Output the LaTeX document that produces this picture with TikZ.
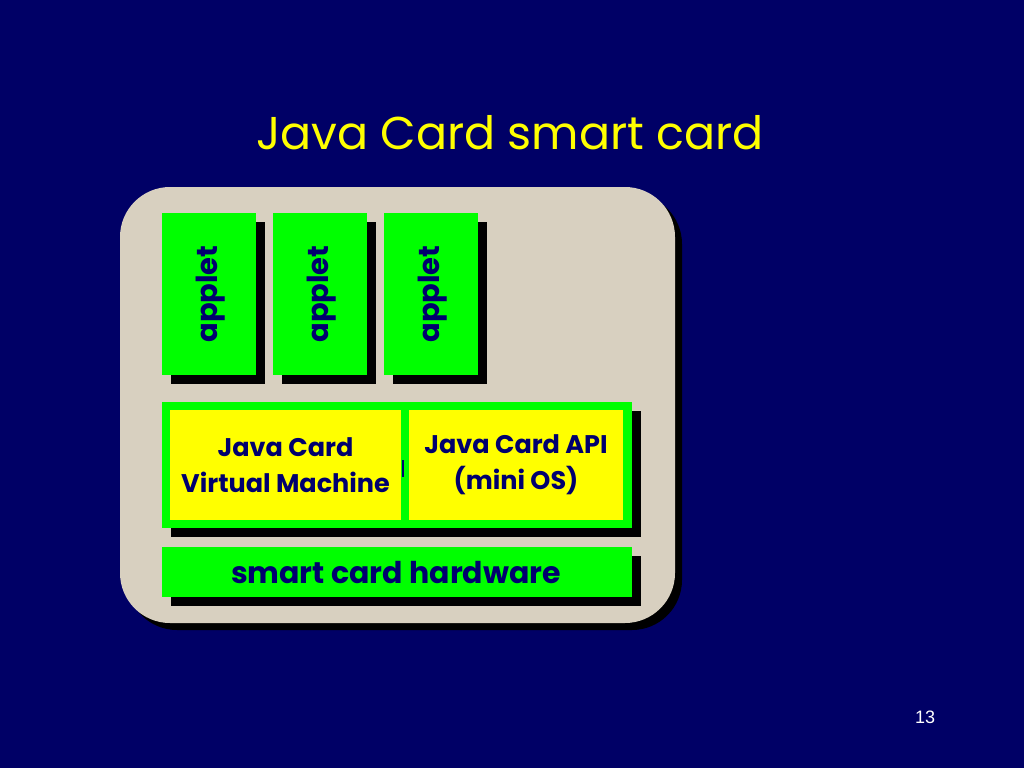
\documentclass[tikz,border=0pt]{standalone}
\usepackage{fontspec}
\setmainfont{Poppins}
\setsansfont{Liberation Sans}
\usetikzlibrary{shadows}
\definecolor{bg}{RGB}{0,0,102}
\definecolor{beige}{RGB}{216,208,192}
\definecolor{gr}{RGB}{0,255,0}
\definecolor{yl}{RGB}{255,255,0}
\definecolor{ink}{RGB}{0,0,110}
\tikzset{
  box/.style={draw=none, fill=gr, inner sep=0pt, outer sep=0pt,
    drop shadow={shadow xshift=9pt, shadow yshift=-9pt, fill=black, opacity=1}},
  ybox/.style={draw=none, fill=yl, inner sep=0pt, outer sep=0pt},
  lbl/.style={text=ink, font=\bfseries, align=center, inner sep=0pt},
}
\begin{document}
\begin{tikzpicture}[x=1pt,y=-1pt]
\fill[bg] (0,0) rectangle (1024,768);
\useasboundingbox (0,0) rectangle (1024,768);
\node[text=yl, font=\fontsize{46}{50}\selectfont, inner sep=0pt] (title) at (510,133) {Java Card smart card};
% card
\fill[black, rounded corners=50pt] (127,194) rectangle (682,630);
\fill[beige, rounded corners=50pt] (120,187) rectangle (675,623);
% applets
\foreach \i/\x in {1/209,2/320,3/431}{
  \node[box, minimum width=94pt, minimum height=162pt] (a\i) at (\x,294) {};
  \node[lbl, rotate=90, font=\bfseries\fontsize{29}{30}\selectfont] (t\i) at ([xshift=2pt]a\i.center) {applet};
}
% middle layer
\node[box, minimum width=470pt, minimum height=126pt] (mid) at (397,465) {};
\node[ybox, minimum width=231pt, minimum height=110pt] (jvm) at (285.5,465) {};
\node[ybox, minimum width=214pt, minimum height=110pt] (api) at (516,465) {};
\node[lbl, font=\bfseries\fontsize{25.5}{36}\selectfont] (jvmt) at (jvm.center) {Java Card\\Virtual Machine};
\node[lbl, font=\bfseries\fontsize{25.5}{36}\selectfont] (apit) at (api.center) {Java Card API\\(mini OS)};
\coordinate (b1) at (403,460);
\coordinate (b2) at (403,477);
\draw[ink, line width=2.5pt] (b1) -- (b2);
% hardware
\node[box, minimum width=470pt, minimum height=50pt] (hw) at (397,572) {};
\node[lbl, font=\bfseries\fontsize{30}{32}\selectfont] (hwt) at (396,573) {smart card hardware};
% page number
\node[text=white, font=\sffamily\fontsize{18}{20}\selectfont, inner sep=0pt] (pg) at (925,717) {13};
\end{tikzpicture}
\end{document}
